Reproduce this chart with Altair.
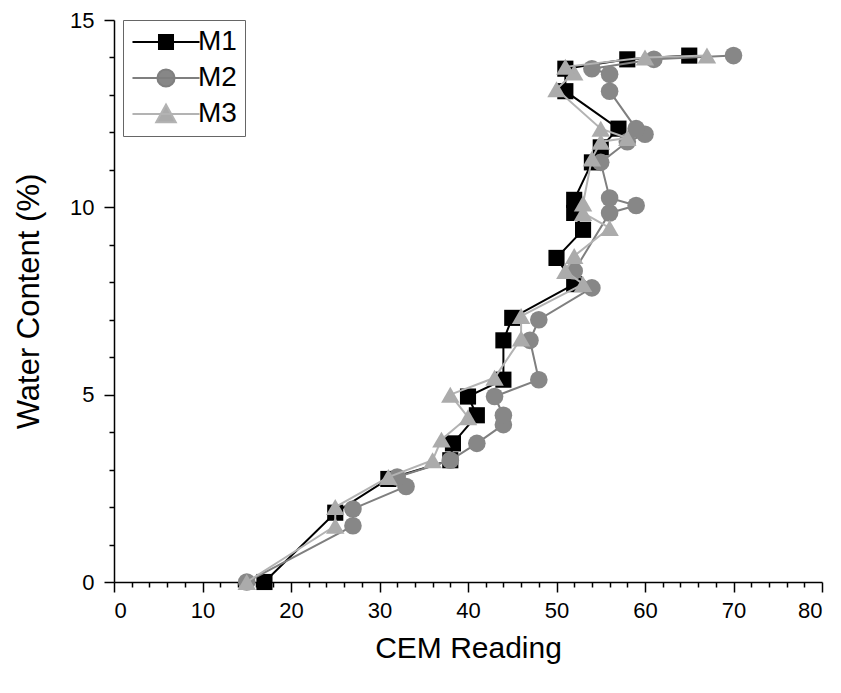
import altair as alt
import pandas as pd

# ---- data ----
series_names = ["M1", "M2", "M3"]

m1_cem = [17, 25, 31, 38, 38.3, 41, 40, 44, 44, 45, 52, 50, 53, 52, 52, 54, 55, 57, 51, 51, 58, 65]
m1_water = [0, 1.85, 2.75, 3.25, 3.7, 4.45, 4.95, 5.4, 6.45, 7.05, 7.95, 8.65, 9.4, 9.85, 10.2, 11.2, 11.6, 12.1, 13.1, 13.7, 13.95, 14.05]

m2_cem = [15, 27, 27, 33, 32, 38, 41, 44, 44, 43, 48, 47, 48, 54, 52, 56, 59, 56, 55, 58, 60, 59, 56, 56, 54, 61, 70]
m2_water = [0, 1.5, 1.95, 2.55, 2.8, 3.25, 3.7, 4.2, 4.45, 4.95, 5.4, 6.45, 7.0, 7.85, 8.3, 9.85, 10.05, 10.25, 11.2, 11.75, 11.95, 12.1, 13.1, 13.55, 13.7, 13.95, 14.05]

m3_cem = [15, 25, 25, 31, 36, 37, 40, 38, 43, 46, 46, 53, 51, 52, 56, 53, 53, 54, 55, 58, 55, 50, 52, 51, 60, 67]
m3_water = [0, 1.5, 2.0, 2.8, 3.25, 3.8, 4.4, 5.0, 5.45, 6.5, 7.1, 7.95, 8.3, 8.7, 9.45, 9.85, 10.1, 11.3, 11.75, 11.85, 12.1, 13.15, 13.6, 13.75, 14.0, 14.05]

x_ticks = list(range(0, 81, 2))
y_ticks = list(range(0, 16, 1))

# ---- styling ----
FONT = "Liberation Sans"
line_colors = ["#000000", "#7f7f7f", "#b3b3b3"]
point_colors = ["#000000", "#878787", "#ababab"]
point_shapes = ["square", "circle", "triangle-up"]
point_sizes = [260, 310, 340]
legend_paths = [
    "M-4.3,0L4.3,0M-0.9,-0.9L0.9,-0.9L0.9,0.9L-0.9,0.9Z",
    "M-4.3,0L4.3,0M-1.1,0A1.1,1.1 0 1,0 1.1,0A1.1,1.1 0 1,0 -1.1,0Z",
    "M-4.3,0L4.3,0M-1.25,1.05L1.25,1.05L0,-1.2Z",
]

rows = []
for name, xs, ys in zip(series_names, [m1_cem, m2_cem, m3_cem], [m1_water, m2_water, m3_water]):
    for i, (xv, yv) in enumerate(zip(xs, ys)):
        rows.append({"series": name, "cem": xv, "water": yv, "idx": i})
df = pd.DataFrame(rows)

x_axis = alt.Axis(
    values=x_ticks,
    labelExpr="datum.value % 10 === 0 ? datum.label : ''",
    tickSize={"condition": {"test": "datum.value % 10 !== 0", "value": 5}, "value": 10},
    labelPadding=8,
    title="CEM Reading",
    titlePadding=12,
    grid=False,
)
y_axis = alt.Axis(
    values=y_ticks,
    labelExpr="datum.value % 5 === 0 ? datum.label : ''",
    tickSize={"condition": {"test": "datum.value % 5 !== 0", "value": 5}, "value": 10},
    labelPadding=10,
    title="Water Content (%)",
    titlePadding=24,
    titleFontSize=31,
    grid=False,
)
x_enc = alt.X("cem:Q", scale=alt.Scale(domain=[0, 80], nice=False, zero=False), axis=x_axis)
y_enc = alt.Y("water:Q", scale=alt.Scale(domain=[0, 15], nice=False), axis=y_axis)

base = alt.Chart(df)
layers = []
for name, lc, pc, shp, sz in zip(series_names, line_colors, point_colors, point_shapes, point_sizes):
    sub = base.transform_filter(alt.datum.series == name)
    layers.append(
        sub.mark_line(color=lc, strokeWidth=2).encode(x=x_enc, y=y_enc, order="idx:Q")
    )
    layers.append(
        sub.mark_point(shape=shp, filled=True, size=sz, color=pc, opacity=1, strokeWidth=0).encode(x=x_enc, y=y_enc)
    )

legend_layer = base.transform_filter("false").mark_point(filled=True, opacity=1, strokeWidth=2).encode(
    x=x_enc,
    y=y_enc,
    fill=alt.Fill("series:N", scale=alt.Scale(domain=series_names, range=point_colors), legend=alt.Legend(title=None)),
    stroke=alt.Stroke("series:N", scale=alt.Scale(domain=series_names, range=line_colors), legend=alt.Legend(title=None)),
    shape=alt.Shape("series:N", scale=alt.Scale(domain=series_names, range=legend_paths), legend=alt.Legend(title=None)),
)
layers.append(legend_layer)

chart = alt.layer(*layers).properties(
    width=708,
    height=562,
    autosize=alt.AutoSizeParams(type="none"),
    padding={"left": 106, "top": 12, "right": 11, "bottom": 93},
).configure_view(
    stroke=None
).configure_axis(
    domainColor="black",
    domainWidth=1.5,
    tickColor="black",
    tickWidth=1.5,
    labelFont=FONT,
    labelFontSize=22,
    labelColor="black",
    titleFont=FONT,
    titleFontSize=30,
    titleFontWeight="normal",
    titleColor="black",
).configure_legend(
    orient="none",
    legendX=9,
    legendY=0,
    strokeColor="#666666",
    strokeWidth=1,
    padding=8,
    labelFont=FONT,
    labelFontSize=28,
    labelColor="black",
    symbolSize=243,
    symbolStrokeWidth=2,
    symbolOffset=21,
    labelOffset=18,
    rowPadding=8,
)

chart.save("out.html", embed_options={"renderer": "svg", "actions": False})
